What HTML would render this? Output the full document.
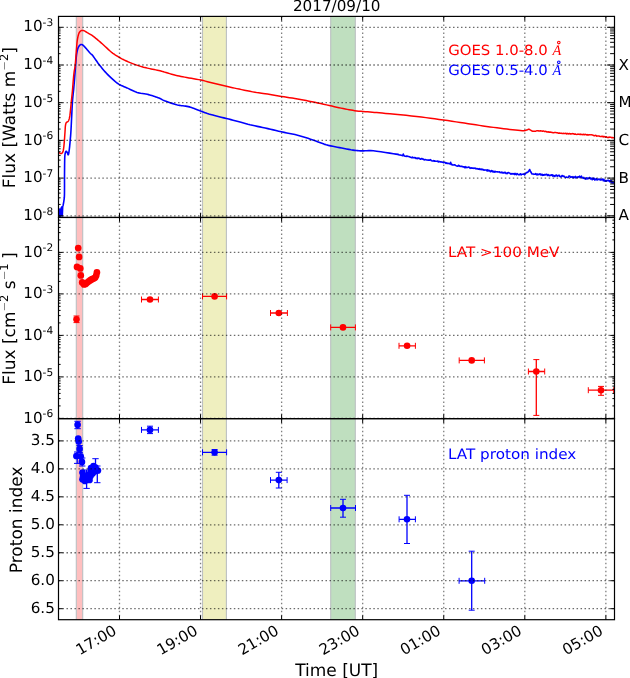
<!DOCTYPE html>
<html><head><meta charset="utf-8"><title>2017/09/10</title><style>html,body{margin:0;padding:0;background:#fff;width:630px;height:678px;overflow:hidden;position:relative}</style></head><body>
<svg width="630" height="678" viewBox="0 0 630 678" style="position:absolute;left:0;top:0">
<rect width="630" height="678" fill="#fff"/>
<defs>
<clipPath id="c1"><rect x="58.5" y="16.4" width="556.0" height="201.04999999999998"/></clipPath>
<clipPath id="c2"><rect x="58.5" y="217.45" width="556.0" height="201.2"/></clipPath>
<clipPath id="c3"><rect x="58.5" y="418.65" width="556.0" height="201.05000000000007"/></clipPath>
</defs>
<rect x="76.3" y="16.4" width="6.4" height="603.3" fill="#ffbfbf"/>
<line x1="76.3" y1="16.4" x2="76.3" y2="619.7" stroke="#bcc0c2" stroke-width="1.1"/>
<line x1="82.7" y1="16.4" x2="82.7" y2="619.7" stroke="#bcc0c2" stroke-width="1.1"/>
<rect x="202.5" y="16.4" width="23.9" height="603.3" fill="#efefbf"/>
<line x1="202.5" y1="16.4" x2="202.5" y2="619.7" stroke="#bcc0c2" stroke-width="1.1"/>
<line x1="226.4" y1="16.4" x2="226.4" y2="619.7" stroke="#bcc0c2" stroke-width="1.1"/>
<rect x="330.7" y="16.4" width="24.6" height="603.3" fill="#bfdfbf"/>
<line x1="330.7" y1="16.4" x2="330.7" y2="619.7" stroke="#bcc0c2" stroke-width="1.1"/>
<line x1="355.3" y1="16.4" x2="355.3" y2="619.7" stroke="#bcc0c2" stroke-width="1.1"/>
<g clip-path="url(#c1)">
<polyline points="59,217 59.3,209 59.7,215 60.2,210 60.6,216.5 61,208 61.5,215 61.9,206.8 62.3,216 62.7,206.5 63.1,205.4 63.24,204.59 63.45,203.48 63.69,202.16 63.93,200.7 64.14,199.19 64.3,197.7 64.39,196.2 64.45,194.62 64.47,192.98 64.49,191.31 64.49,189.65 64.5,188 64.51,186.4 64.51,184.83 64.51,183.26 64.5,181.65 64.5,179.97 64.5,178.2 64.51,176.27 64.52,174.21 64.54,172.08 64.56,169.96 64.58,167.9 64.6,166 64.62,164.2 64.64,162.43 64.67,160.73 64.7,159.15 64.74,157.73 64.8,156.5 64.87,155.5 64.96,154.69 65.06,154.04 65.17,153.51 65.28,153.04 65.4,152.6 65.52,152.19 65.64,151.84 65.77,151.57 65.9,151.37 66.05,151.24 66.2,151.2 66.37,151.26 66.55,151.43 66.74,151.67 66.93,151.97 67.12,152.29 67.3,152.6 67.47,153.01 67.64,153.55 67.81,154.12 67.97,154.59 68.13,154.86 68.3,154.8 68.47,154.39 68.64,153.73 68.81,152.86 68.97,151.83 69.14,150.69 69.3,149.5 69.46,148.22 69.61,146.8 69.76,145.27 69.91,143.67 70.06,142.04 70.2,140.4 70.33,138.94 70.45,137.66 70.57,136.34 70.69,134.77 70.83,132.73 71,130 71.2,126.28 71.42,121.69 71.66,116.62 71.91,111.49 72.16,106.72 72.4,102.7 72.63,99.54 72.87,96.91 73.11,94.64 73.34,92.53 73.57,90.38 73.8,88 74.03,85.3 74.27,82.43 74.51,79.51 74.73,76.71 74.93,74.16 75.1,72 75.22,70.37 75.31,69.17 75.37,68.22 75.43,67.34 75.5,66.36 75.6,65.1 75.73,63.49 75.88,61.65 76.04,59.71 76.22,57.78 76.4,55.97 76.6,54.4 76.81,53.06 77.02,51.85 77.25,50.76 77.49,49.79 77.74,48.9 78,48.1 78.28,47.39 78.59,46.8 78.9,46.3 79.21,45.88 79.52,45.52 79.8,45.2 80.05,44.94 80.28,44.75 80.5,44.63 80.72,44.55 80.95,44.51 81.2,44.5 81.47,44.51 81.73,44.55 82.01,44.62 82.31,44.75 82.64,44.94 83,45.2 83.39,45.53 83.81,45.93 84.25,46.39 84.73,46.9 85.24,47.48 85.8,48.1 86.44,48.83 87.15,49.67 87.91,50.57 88.66,51.46 89.37,52.29 90,53 90.5,53.49 90.88,53.81 91.22,54.06 91.59,54.36 92.06,54.83 92.7,55.6 93.54,56.72 94.53,58.11 95.62,59.68 96.76,61.32 97.9,62.93 99,64.4 100.06,65.76 101.13,67.1 102.2,68.41 103.27,69.68 104.34,70.91 105.4,72.1 106.45,73.24 107.48,74.33 108.51,75.38 109.55,76.4 110.61,77.4 111.7,78.4 112.81,79.41 113.93,80.41 115.08,81.41 116.24,82.36 117.45,83.27 118.7,84.1 119.99,84.84 121.3,85.48 122.66,86.07 124.05,86.65 125.5,87.25 127,87.9 128.58,88.64 130.23,89.44 131.93,90.27 133.66,91.07 135.39,91.79 137.1,92.4 138.84,92.87 140.63,93.23 142.43,93.51 144.18,93.76 145.82,94.01 147.3,94.3 148.59,94.61 149.72,94.92 150.74,95.22 151.71,95.54 152.68,95.86 153.7,96.2 154.78,96.56 155.87,96.94 156.97,97.33 158.04,97.73 159.06,98.12 160,98.5 160.78,98.85 161.39,99.18 161.95,99.51 162.58,99.85 163.39,100.24 164.5,100.7 166.04,101.27 167.94,101.95 170.03,102.68 172.12,103.38 174.04,104.01 175.6,104.5 176.73,104.83 177.55,105.04 178.2,105.17 178.8,105.26 179.49,105.36 180.4,105.5 181.55,105.67 182.86,105.82 184.25,105.98 185.66,106.16 187.03,106.36 188.3,106.6 189.44,106.88 190.49,107.19 191.5,107.52 192.51,107.89 193.56,108.28 194.7,108.7 195.93,109.16 197.22,109.67 198.55,110.21 199.9,110.76 201.26,111.29 202.6,111.8 203.84,112.26 204.97,112.68 206.11,113.09 207.35,113.52 208.81,113.98 210.6,114.5 212.82,115.1 215.4,115.77 218.21,116.47 221.07,117.18 223.86,117.86 226.4,118.5 228.72,119.08 230.93,119.63 233.06,120.16 235.11,120.67 237.12,121.18 239.1,121.7 240.97,122.22 242.71,122.74 244.39,123.25 246.11,123.76 247.96,124.28 250,124.8 252.27,125.32 254.71,125.84 257.27,126.36 259.9,126.89 262.56,127.43 265.2,128 267.84,128.6 270.53,129.24 273.24,129.89 275.96,130.54 278.69,131.18 281.4,131.8 284.11,132.37 286.83,132.91 289.56,133.44 292.27,133.98 294.95,134.56 297.6,135.2 300.23,135.92 302.84,136.7 305.43,137.51 307.98,138.35 310.48,139.18 312.9,140 315.23,140.82 317.48,141.67 319.67,142.53 321.84,143.35 324.01,144.12 326.2,144.8 328.42,145.39 330.63,145.89 332.84,146.34 335.06,146.76 337.28,147.17 339.5,147.6 341.78,148.05 344.12,148.52 346.46,148.97 348.75,149.4 350.91,149.79 352.9,150.1 354.64,150.34 356.17,150.53 357.58,150.66 358.96,150.76 360.41,150.84 362,150.9 363.62,150.9 365.18,150.81 366.8,150.69 368.61,150.61 370.73,150.63 373.3,150.8 376.69,151.19 380.86,151.77 385.36,152.44 389.69,153.12 393.4,153.7 396,154.1 396.61,154.13 397.21,154.43 397.82,154.11 398.42,154.41 399.03,155.06 399.64,155.07 400.24,155.05 400.85,155.16 401.45,155.2 402.06,155.43 402.66,155.62 403.27,154.1 403.88,155.65 404.48,156.08 405.09,156.23 405.69,156.26 406.3,156.49 406.91,155.96 407.51,156.17 408.12,156.46 408.72,156.48 409.33,156.66 409.94,156.94 410.54,157.32 411.15,157.46 411.75,157.63 412.36,157.08 412.96,157.86 413.57,157.65 414.18,157.48 414.78,157.9 415.39,157.6 415.99,158.49 416.6,158.45 417.21,158 417.82,158.62 418.43,158.1 419.04,158.2 419.65,158.54 420.25,159.2 420.86,159.32 421.47,158.61 422.08,158.67 422.69,159.1 423.3,158.97 423.91,159.7 424.52,159.88 425.13,159.46 425.74,159.68 426.35,159.85 426.95,159.97 427.56,159.97 428.17,160.26 428.78,159.97 429.39,160.27 430,159.89 430.61,159.6 431.22,160.67 431.83,160.76 432.44,160.91 433.05,161.04 433.65,160.48 434.26,161.2 434.87,160.89 435.48,161.32 436.09,161.19 436.7,161.3 437.31,161.33 437.92,161.04 438.53,161.95 439.14,161.54 439.75,161.65 440.35,161.95 440.96,161.71 441.57,162.04 442.18,162.24 442.79,162.06 443.4,162.65 444.01,162.58 444.61,162.38 445.22,162.58 445.82,163.39 446.43,162.94 447.04,163.46 447.64,163.28 448.25,163.36 448.85,163.47 449.46,163.76 450.06,163.89 450.67,162.34 451.28,164.67 451.88,164.32 452.49,164.99 453.09,164.93 453.7,164.98 454.31,164.7 454.91,164.77 455.52,165.3 456.12,165.69 456.73,165.93 457.34,166.09 457.94,166.2 458.55,165.33 459.15,165.65 459.76,166.34 460.36,166.19 460.97,166.55 461.58,166.27 462.18,166.67 462.79,166.66 463.39,167.01 464,166.72 464.61,167.67 465.22,166.69 465.83,167.76 466.44,167.14 467.04,167.51 467.65,167.53 468.26,167.04 468.87,167.26 469.48,167.27 470.09,168.29 470.7,167.94 471.31,167.79 471.91,168.27 472.52,168 473.13,168.04 473.74,168.39 474.35,168.25 474.96,168.08 475.57,168.68 476.18,168.48 476.79,168.86 477.39,168.62 478,169.12 478.61,169.18 479.22,168.69 479.83,169.34 480.44,169.07 481.05,169.73 481.66,169.16 482.26,169.77 482.87,169.42 483.48,169.95 484.09,170.13 484.7,169.92 485.36,169.96 486.02,169.95 486.69,170.59 487.35,169.86 488.01,171.08 488.68,170.11 489.34,170.42 490,171.33 490.63,171.78 491.25,170.5 491.88,171.34 492.51,170.86 493.13,172.06 493.76,171.3 494.38,172.07 495.01,171.25 495.64,171.92 496.26,171.69 496.89,171.77 497.52,171.87 498.14,172.06 498.77,172.01 499.39,171.73 500.02,172.64 500.65,172.38 501.27,172.63 501.9,172 502.5,172.92 503.1,172.65 503.7,173 504.3,172.41 504.9,172.93 505.5,172.47 506.1,173.59 506.7,173.28 507.3,173.56 507.9,172.76 508.5,172.46 509.1,173.05 509.7,173.08 510.3,173.76 510.9,174.14 511.5,173.62 512.1,174.03 512.7,173.68 513.3,173.98 513.9,173.56 514.5,174.47 515.1,173.42 515.7,174.23 516.3,174.66 516.9,173.62 517.5,173.71 518.1,174.45 518.7,174.81 519.3,174.82 519.9,174.2 520.5,173.73 521.1,174.96 521.7,174.28 522.4,174.2 523.1,174.25 523.8,173.82 524.5,174.92 525.23,173.9 525.97,173.11 526.7,172.48 527.6,172.46 528.5,171.21 529.1,170.59 529.7,169.47 530.35,171.4 531,172.12 531.85,173.95 532.7,173.96 533.31,173.94 533.93,174.35 534.54,174.15 535.16,174.33 535.77,173.6 536.39,174.44 537,174.95 537.61,174 538.23,174.49 538.84,174.62 539.46,174.11 540.07,173.74 540.69,174.95 541.3,174.97 541.91,174.22 542.53,175.3 543.14,174.72 543.76,175.22 544.37,174.52 544.99,174.92 545.6,174.65 546.21,174.28 546.82,174.31 547.43,175.54 548.04,174.55 548.65,175.01 549.26,175.76 549.87,175.42 550.48,175.13 551.09,175.41 551.7,174.89 552.31,174.76 552.92,176.21 553.53,175.36 554.14,175.77 554.75,176.52 555.36,175.36 555.97,175.74 556.58,175.08 557.19,176.17 557.81,175.97 558.42,175.42 559.03,175.18 559.64,176.35 560.25,176.25 560.86,176.9 561.47,176.77 562.08,175.46 562.69,175.84 563.3,176.46 563.91,176.11 564.52,176.85 565.13,177.21 565.74,177.39 566.35,177.09 566.96,177.27 567.57,177.43 568.18,177.28 568.79,176.11 569.4,176.1 570,176.3 570.6,177.38 571.2,176.9 571.8,176.72 572.4,177.63 573,176.58 573.6,177.66 574.2,177.04 574.8,177.52 575.4,176.42 576,177.98 576.6,177.4 577.2,176.96 577.8,177.39 578.4,176.7 579,177.03 579.6,176.19 580.2,177.59 580.8,176.94 581.4,176.22 582,177.36 582.6,177.92 583.2,178.26 583.8,177.31 584.4,178.57 585,178.74 585.6,179.08 586.2,177.76 586.8,178.94 587.4,178.04 588,178.77 588.6,178.59 589.2,177.67 589.81,177.63 590.42,178.96 591.03,178.11 591.65,178.74 592.26,179.72 592.87,177.98 593.48,179.23 594.09,178.23 594.7,179.88 595.32,179 595.93,179.68 596.54,178.7 597.15,179.94 597.76,179.63 598.37,179.31 598.98,179.1 599.6,179.7 600.21,179.12 600.82,180.11 601.43,179.72 602.04,179.3 602.65,179.1 603.27,180.73 603.88,179.4 604.49,181.06 605.1,181.21 605.74,180.44 606.37,181.19 607.01,180.55 607.64,180.75 608.28,180.26 608.91,180.41 609.55,181.72 610.19,180.56 610.82,182 611.46,180.76 612.09,182.99 612.73,182.25 613.36,182.87 614,182.4" fill="none" stroke="#0000ff" stroke-width="1.6" stroke-linejoin="round" stroke-linecap="round" />
<polyline points="59,152.6 59.13,152.68 59.31,152.8 59.53,152.94 59.76,153.08 59.99,153.2 60.2,153.3 60.39,153.37 60.58,153.44 60.76,153.49 60.94,153.52 61.12,153.52 61.3,153.5 61.47,153.45 61.65,153.37 61.82,153.26 61.99,153.13 62.15,152.98 62.3,152.8 62.45,152.62 62.59,152.43 62.72,152.22 62.85,151.96 62.97,151.63 63.1,151.2 63.22,150.68 63.34,150.08 63.46,149.41 63.58,148.67 63.69,147.87 63.8,147 63.91,146.06 64.01,145.04 64.11,143.96 64.2,142.82 64.3,141.63 64.4,140.4 64.5,139.08 64.61,137.64 64.71,136.16 64.81,134.69 64.91,133.28 65,132 65.08,130.82 65.14,129.7 65.2,128.65 65.26,127.67 65.32,126.79 65.4,126 65.49,125.33 65.58,124.76 65.68,124.29 65.78,123.88 65.89,123.53 66,123.2 66.12,122.92 66.24,122.72 66.38,122.56 66.51,122.44 66.65,122.32 66.8,122.2 66.96,122.08 67.12,122 67.29,121.92 67.47,121.84 67.64,121.74 67.8,121.6 67.95,121.45 68.1,121.31 68.25,121.14 68.4,120.94 68.55,120.66 68.7,120.3 68.86,119.86 69.03,119.35 69.21,118.78 69.38,118.14 69.54,117.41 69.7,116.6 69.85,115.68 69.99,114.64 70.12,113.52 70.25,112.36 70.37,111.17 70.5,110 70.62,108.89 70.72,107.82 70.82,106.73 70.93,105.56 71.05,104.24 71.2,102.7 71.39,100.86 71.61,98.77 71.84,96.52 72.08,94.23 72.31,92.02 72.5,90 72.66,88.15 72.8,86.39 72.93,84.71 73.05,83.09 73.17,81.52 73.3,80 73.43,78.54 73.56,77.14 73.68,75.81 73.81,74.51 73.95,73.25 74.1,72 74.26,70.9 74.44,69.97 74.62,69.07 74.81,68.06 75,66.78 75.2,65.1 75.41,62.84 75.64,60.07 75.87,57.05 76.1,54 76.31,51.17 76.5,48.8 76.66,46.91 76.78,45.31 76.89,43.93 77.01,42.69 77.14,41.5 77.3,40.3 77.49,39.07 77.71,37.88 77.94,36.74 78.18,35.69 78.44,34.73 78.7,33.9 78.97,33.2 79.26,32.62 79.56,32.14 79.86,31.74 80.18,31.4 80.5,31.1 80.83,30.85 81.17,30.66 81.52,30.53 81.88,30.45 82.24,30.41 82.6,30.4 82.96,30.43 83.31,30.5 83.67,30.61 84.03,30.75 84.41,30.92 84.8,31.1 85.18,31.3 85.54,31.51 85.91,31.74 86.32,32.01 86.81,32.33 87.4,32.7 88.12,33.12 88.93,33.58 89.82,34.08 90.76,34.63 91.73,35.24 92.7,35.9 93.69,36.63 94.72,37.44 95.78,38.29 96.86,39.19 97.93,40.09 99,41 100.06,41.92 101.13,42.86 102.2,43.81 103.27,44.78 104.34,45.74 105.4,46.7 106.44,47.66 107.46,48.62 108.47,49.59 109.5,50.54 110.57,51.48 111.7,52.4 112.9,53.3 114.17,54.19 115.47,55.07 116.79,55.92 118.11,56.73 119.4,57.5 120.67,58.22 121.94,58.89 123.21,59.52 124.47,60.13 125.73,60.72 127,61.3 128.25,61.86 129.49,62.4 130.72,62.91 131.97,63.41 133.26,63.91 134.6,64.4 136.02,64.9 137.52,65.4 139.05,65.89 140.58,66.36 142.08,66.8 143.5,67.2 144.83,67.54 146.08,67.84 147.3,68.11 148.52,68.36 149.77,68.62 151.1,68.9 152.56,69.21 154.13,69.54 155.74,69.88 157.31,70.2 158.76,70.52 160,70.8 160.93,71.03 161.58,71.21 162.11,71.37 162.67,71.55 163.42,71.78 164.5,72.1 165.97,72.53 167.71,73.06 169.64,73.64 171.66,74.24 173.67,74.8 175.6,75.3 177.41,75.72 179.18,76.09 180.95,76.44 182.76,76.77 184.66,77.12 186.7,77.5 188.92,77.9 191.29,78.31 193.75,78.74 196.23,79.17 198.67,79.63 201,80.1 203.21,80.6 205.35,81.13 207.45,81.67 209.53,82.23 211.6,82.77 213.7,83.3 215.82,83.81 217.93,84.32 220.05,84.82 222.17,85.32 224.28,85.81 226.4,86.3 228.48,86.77 230.51,87.23 232.55,87.69 234.63,88.14 236.8,88.61 239.1,89.1 241.63,89.63 244.37,90.2 247.21,90.79 250,91.35 252.64,91.87 255,92.3 256.96,92.62 258.6,92.85 260.08,93.03 261.57,93.2 263.22,93.41 265.2,93.7 267.55,94.08 270.16,94.51 272.92,94.98 275.78,95.46 278.63,95.94 281.4,96.4 284.09,96.83 286.76,97.25 289.44,97.66 292.13,98.09 294.84,98.53 297.6,99 300.41,99.5 303.26,100.03 306.14,100.57 309.04,101.14 311.93,101.71 314.8,102.3 317.7,102.91 320.65,103.56 323.59,104.22 326.49,104.88 329.27,105.51 331.9,106.1 334.36,106.65 336.68,107.17 338.9,107.67 341.04,108.14 343.13,108.58 345.2,109 347.2,109.38 349.1,109.74 350.95,110.06 352.8,110.36 354.7,110.64 356.7,110.9 358.79,111.13 360.91,111.31 363.09,111.48 365.33,111.64 367.63,111.81 370,112 372.29,112.2 374.46,112.38 376.69,112.58 379.17,112.8 382.08,113.06 385.6,113.4 389.92,113.81 394.95,114.29 400.4,114.82 406.01,115.37 411.5,115.94 416.6,116.5 421.33,117.06 425.92,117.63 430.39,118.21 434.77,118.8 439.1,119.4 443.4,120 447.68,120.61 451.93,121.24 456.11,121.87 460.23,122.5 464.26,123.11 468.2,123.7 472.03,124.27 475.76,124.83 479.41,125.38 482.99,125.9 486.52,126.41 490,126.9 493.48,127.37 496.97,127.83 500.39,128.26 503.71,128.67 506.86,129.06 509.8,129.4 512.62,129.71 515.39,130 517.99,130.26 520.31,130.48 522.26,130.66 523.7,130.8 524.45,130.65 525.2,130.42 525.95,130.23 526.7,129.9 527.57,129.78 528.43,129.2 529.3,129.19 530.15,129.94 531,130.36 531.85,131.02 532.7,131.23 533.47,131.32 534.23,131.15 535,131.22 535.77,131.17 536.53,130.84 537.3,130.87 538.07,130.83 538.83,131.06 539.6,130.93 540.31,130.72 541.01,131.11 541.72,130.88 542.43,131.2 543.14,131.05 543.84,131.07 544.55,131.58 545.26,131.34 545.96,131.43 546.67,131.9 547.38,131.93 548.09,131.72 548.79,132.15 549.5,132.02 550.21,132.18 550.91,132.02 551.62,132.49 552.33,132.44 553.04,132.68 553.74,132.72 554.45,132.49 555.16,132.61 555.86,132.59 556.57,132.66 557.28,132.7 557.99,132.92 558.69,133.17 559.4,132.92 560.11,133.34 560.82,133.18 561.53,133.21 562.24,133.53 562.95,133.38 563.66,133.32 564.37,133.46 565.08,133.62 565.79,133.28 566.5,133.86 567.2,133.34 567.91,133.81 568.62,133.9 569.33,133.44 570.04,133.95 570.75,133.73 571.46,133.9 572.17,133.58 572.88,133.64 573.59,133.76 574.3,134.28 575.01,133.85 575.72,134.24 576.43,134.39 577.14,134.43 577.85,134.09 578.56,134.14 579.27,134.28 579.98,134.48 580.69,134.09 581.4,134.54 582.1,134.61 582.81,134.7 583.52,134.19 584.23,134.83 584.94,134.3 585.65,134.5 586.36,134.72 587.07,134.97 587.78,134.61 588.49,135.05 589.2,134.83 589.94,134.77 590.69,134.87 591.43,134.87 592.18,134.9 592.92,135.05 593.66,135.53 594.41,135.85 595.15,135.36 595.89,135.38 596.64,136.15 597.38,135.92 598.12,135.93 598.87,135.91 599.61,136.27 600.36,136.54 601.1,136.37 601.82,136.42 602.53,136.22 603.25,136.95 603.97,136.36 604.68,136.78 605.4,137.12 606.12,136.66 606.83,137.2 607.55,137.45 608.27,137.28 608.98,137.48 609.7,137.03 610.42,137.36 611.13,137.21 611.85,137.84 612.57,137.48 613.28,137.68 614,137.8" fill="none" stroke="#ff0000" stroke-width="1.5" stroke-linejoin="round" stroke-linecap="round" />
</g>
<g clip-path="url(#c2)">
<circle cx="78.2" cy="248.1" r="3.35" fill="#ff0000"/>
<circle cx="79.1" cy="256.9" r="3.35" fill="#ff0000"/>
<circle cx="77.0" cy="266.9" r="3.35" fill="#ff0000"/>
<circle cx="80.3" cy="268.4" r="3.35" fill="#ff0000"/>
<circle cx="80.8" cy="275.4" r="3.35" fill="#ff0000"/>
<circle cx="82.2" cy="282.4" r="3.35" fill="#ff0000"/>
<circle cx="84.0" cy="284.4" r="3.35" fill="#ff0000"/>
<circle cx="85.6" cy="284.0" r="3.35" fill="#ff0000"/>
<circle cx="87.2" cy="282.6" r="3.35" fill="#ff0000"/>
<circle cx="88.8" cy="281.3" r="3.35" fill="#ff0000"/>
<circle cx="90.4" cy="280.2" r="3.35" fill="#ff0000"/>
<circle cx="92.0" cy="279.2" r="3.35" fill="#ff0000"/>
<circle cx="93.6" cy="278.5" r="3.35" fill="#ff0000"/>
<circle cx="95.2" cy="277.6" r="3.35" fill="#ff0000"/>
<circle cx="96.2" cy="275.5" r="3.35" fill="#ff0000"/>
<circle cx="96.9" cy="272.4" r="3.35" fill="#ff0000"/>
<line x1="76.5" y1="316" x2="76.5" y2="322.6" stroke="#ff0000" stroke-width="1.3"/>
<line x1="73.5" y1="316" x2="79.5" y2="316" stroke="#ff0000" stroke-width="1"/>
<line x1="73.5" y1="322.6" x2="79.5" y2="322.6" stroke="#ff0000" stroke-width="1"/>
<circle cx="76.5" cy="319.3" r="3.3" fill="#ff0000"/>
<line x1="141.5" y1="299.5" x2="158.4" y2="299.5" stroke="#ff0000" stroke-width="1.3"/>
<line x1="141.5" y1="296.5" x2="141.5" y2="302.5" stroke="#ff0000" stroke-width="1"/>
<line x1="158.4" y1="296.5" x2="158.4" y2="302.5" stroke="#ff0000" stroke-width="1"/>
<circle cx="150" cy="299.5" r="3.3" fill="#ff0000"/>
<line x1="202.5" y1="296.4" x2="226.6" y2="296.4" stroke="#ff0000" stroke-width="1.3"/>
<line x1="202.5" y1="293.4" x2="202.5" y2="299.4" stroke="#ff0000" stroke-width="1"/>
<line x1="226.6" y1="293.4" x2="226.6" y2="299.4" stroke="#ff0000" stroke-width="1"/>
<circle cx="214.6" cy="296.4" r="3.3" fill="#ff0000"/>
<line x1="270.5" y1="313" x2="287.4" y2="313" stroke="#ff0000" stroke-width="1.3"/>
<line x1="270.5" y1="310" x2="270.5" y2="316" stroke="#ff0000" stroke-width="1"/>
<line x1="287.4" y1="310" x2="287.4" y2="316" stroke="#ff0000" stroke-width="1"/>
<circle cx="278.8" cy="313" r="3.3" fill="#ff0000"/>
<line x1="330.7" y1="327.4" x2="355.4" y2="327.4" stroke="#ff0000" stroke-width="1.3"/>
<line x1="330.7" y1="324.4" x2="330.7" y2="330.4" stroke="#ff0000" stroke-width="1"/>
<line x1="355.4" y1="324.4" x2="355.4" y2="330.4" stroke="#ff0000" stroke-width="1"/>
<circle cx="343" cy="327.4" r="3.3" fill="#ff0000"/>
<line x1="399" y1="345.8" x2="415.4" y2="345.8" stroke="#ff0000" stroke-width="1.3"/>
<line x1="399" y1="342.8" x2="399" y2="348.8" stroke="#ff0000" stroke-width="1"/>
<line x1="415.4" y1="342.8" x2="415.4" y2="348.8" stroke="#ff0000" stroke-width="1"/>
<circle cx="407.1" cy="345.8" r="3.3" fill="#ff0000"/>
<line x1="459.2" y1="360.4" x2="484.4" y2="360.4" stroke="#ff0000" stroke-width="1.3"/>
<line x1="459.2" y1="357.4" x2="459.2" y2="363.4" stroke="#ff0000" stroke-width="1"/>
<line x1="484.4" y1="357.4" x2="484.4" y2="363.4" stroke="#ff0000" stroke-width="1"/>
<circle cx="471.7" cy="360.4" r="3.3" fill="#ff0000"/>
<line x1="528.4" y1="371.5" x2="544.7" y2="371.5" stroke="#ff0000" stroke-width="1.3"/>
<line x1="528.4" y1="368.5" x2="528.4" y2="374.5" stroke="#ff0000" stroke-width="1"/>
<line x1="544.7" y1="368.5" x2="544.7" y2="374.5" stroke="#ff0000" stroke-width="1"/>
<line x1="536.3" y1="359.6" x2="536.3" y2="415.4" stroke="#ff0000" stroke-width="1.3"/>
<line x1="533.3" y1="359.6" x2="539.3" y2="359.6" stroke="#ff0000" stroke-width="1"/>
<line x1="533.3" y1="415.4" x2="539.3" y2="415.4" stroke="#ff0000" stroke-width="1"/>
<circle cx="536.3" cy="371.5" r="3.3" fill="#ff0000"/>
<line x1="588.3" y1="390.2" x2="613.7" y2="390.2" stroke="#ff0000" stroke-width="1.3"/>
<line x1="588.3" y1="387.2" x2="588.3" y2="393.2" stroke="#ff0000" stroke-width="1"/>
<line x1="613.7" y1="387.2" x2="613.7" y2="393.2" stroke="#ff0000" stroke-width="1"/>
<line x1="601" y1="386.4" x2="601" y2="395.3" stroke="#ff0000" stroke-width="1.3"/>
<line x1="598" y1="386.4" x2="604" y2="386.4" stroke="#ff0000" stroke-width="1"/>
<line x1="598" y1="395.3" x2="604" y2="395.3" stroke="#ff0000" stroke-width="1"/>
<circle cx="601" cy="390.2" r="3.3" fill="#ff0000"/>
</g>
<g clip-path="url(#c3)">
<line x1="77.6" y1="421.3" x2="77.6" y2="428.7" stroke="#0000ff" stroke-width="1.3"/>
<line x1="74.39999999999999" y1="421.3" x2="80.8" y2="421.3" stroke="#0000ff" stroke-width="1"/>
<line x1="74.39999999999999" y1="428.7" x2="80.8" y2="428.7" stroke="#0000ff" stroke-width="1"/>
<line x1="79.6" y1="445.5" x2="79.6" y2="452.5" stroke="#0000ff" stroke-width="1.3"/>
<line x1="76.39999999999999" y1="445.5" x2="82.8" y2="445.5" stroke="#0000ff" stroke-width="1"/>
<line x1="76.39999999999999" y1="452.5" x2="82.8" y2="452.5" stroke="#0000ff" stroke-width="1"/>
<line x1="77.2" y1="452" x2="77.2" y2="463.4" stroke="#0000ff" stroke-width="1.3"/>
<line x1="74.0" y1="452" x2="80.4" y2="452" stroke="#0000ff" stroke-width="1"/>
<line x1="74.0" y1="463.4" x2="80.4" y2="463.4" stroke="#0000ff" stroke-width="1"/>
<line x1="82.2" y1="458" x2="82.2" y2="466" stroke="#0000ff" stroke-width="1.3"/>
<line x1="79.0" y1="458" x2="85.4" y2="458" stroke="#0000ff" stroke-width="1"/>
<line x1="79.0" y1="466" x2="85.4" y2="466" stroke="#0000ff" stroke-width="1"/>
<line x1="86.6" y1="470" x2="86.6" y2="488.4" stroke="#0000ff" stroke-width="1.3"/>
<line x1="83.39999999999999" y1="470" x2="89.8" y2="470" stroke="#0000ff" stroke-width="1"/>
<line x1="83.39999999999999" y1="488.4" x2="89.8" y2="488.4" stroke="#0000ff" stroke-width="1"/>
<line x1="95.5" y1="458.7" x2="95.5" y2="472" stroke="#0000ff" stroke-width="1.3"/>
<line x1="92.3" y1="458.7" x2="98.7" y2="458.7" stroke="#0000ff" stroke-width="1"/>
<line x1="92.3" y1="472" x2="98.7" y2="472" stroke="#0000ff" stroke-width="1"/>
<line x1="97.3" y1="466" x2="97.3" y2="482.7" stroke="#0000ff" stroke-width="1.3"/>
<line x1="94.1" y1="466" x2="100.5" y2="466" stroke="#0000ff" stroke-width="1"/>
<line x1="94.1" y1="482.7" x2="100.5" y2="482.7" stroke="#0000ff" stroke-width="1"/>
<circle cx="77.6" cy="424.8" r="3.35" fill="#0000ff"/>
<circle cx="78.2" cy="438.6" r="3.35" fill="#0000ff"/>
<circle cx="78.7" cy="441.6" r="3.35" fill="#0000ff"/>
<circle cx="79.6" cy="448.9" r="3.35" fill="#0000ff"/>
<circle cx="76.4" cy="456" r="3.35" fill="#0000ff"/>
<circle cx="80.7" cy="456.3" r="3.35" fill="#0000ff"/>
<circle cx="81.9" cy="461.9" r="3.35" fill="#0000ff"/>
<circle cx="83.1" cy="476.4" r="3.35" fill="#0000ff"/>
<circle cx="84.5" cy="478.5" r="3.35" fill="#0000ff"/>
<circle cx="86.1" cy="478.2" r="3.35" fill="#0000ff"/>
<circle cx="87.5" cy="476.5" r="3.35" fill="#0000ff"/>
<circle cx="89" cy="474.6" r="3.35" fill="#0000ff"/>
<circle cx="90.8" cy="472.2" r="3.35" fill="#0000ff"/>
<circle cx="92.5" cy="469.9" r="3.35" fill="#0000ff"/>
<circle cx="94" cy="468.5" r="3.35" fill="#0000ff"/>
<circle cx="95.5" cy="467.6" r="3.35" fill="#0000ff"/>
<circle cx="97.9" cy="470.5" r="3.35" fill="#0000ff"/>
<circle cx="82.5" cy="472.5" r="3.35" fill="#0000ff"/>
<circle cx="84" cy="476" r="3.35" fill="#0000ff"/>
<circle cx="86" cy="479.5" r="3.35" fill="#0000ff"/>
<circle cx="88.5" cy="478.5" r="3.35" fill="#0000ff"/>
<circle cx="90.5" cy="476" r="3.35" fill="#0000ff"/>
<circle cx="92.5" cy="473.5" r="3.35" fill="#0000ff"/>
<circle cx="94.5" cy="471.5" r="3.35" fill="#0000ff"/>
<circle cx="96.5" cy="470.5" r="3.35" fill="#0000ff"/>
<circle cx="91" cy="468.2" r="3.35" fill="#0000ff"/>
<circle cx="93.5" cy="466.2" r="3.35" fill="#0000ff"/>
<circle cx="85" cy="481" r="3.35" fill="#0000ff"/>
<circle cx="82.5" cy="479.3" r="3.35" fill="#0000ff"/>
<circle cx="89.5" cy="480" r="3.35" fill="#0000ff"/>
<line x1="141.5" y1="429.9" x2="158.4" y2="429.9" stroke="#0000ff" stroke-width="1.3"/>
<line x1="141.5" y1="426.9" x2="141.5" y2="432.9" stroke="#0000ff" stroke-width="1"/>
<line x1="158.4" y1="426.9" x2="158.4" y2="432.9" stroke="#0000ff" stroke-width="1"/>
<line x1="150" y1="426.2" x2="150" y2="433.6" stroke="#0000ff" stroke-width="1.3"/>
<line x1="147" y1="426.2" x2="153" y2="426.2" stroke="#0000ff" stroke-width="1"/>
<line x1="147" y1="433.6" x2="153" y2="433.6" stroke="#0000ff" stroke-width="1"/>
<circle cx="150" cy="429.9" r="3.3" fill="#0000ff"/>
<line x1="202.5" y1="452.3" x2="226.6" y2="452.3" stroke="#0000ff" stroke-width="1.3"/>
<line x1="202.5" y1="449.3" x2="202.5" y2="455.3" stroke="#0000ff" stroke-width="1"/>
<line x1="226.6" y1="449.3" x2="226.6" y2="455.3" stroke="#0000ff" stroke-width="1"/>
<line x1="214.6" y1="449.5" x2="214.6" y2="455.2" stroke="#0000ff" stroke-width="1.3"/>
<line x1="211.6" y1="449.5" x2="217.6" y2="449.5" stroke="#0000ff" stroke-width="1"/>
<line x1="211.6" y1="455.2" x2="217.6" y2="455.2" stroke="#0000ff" stroke-width="1"/>
<circle cx="214.6" cy="452.3" r="3.3" fill="#0000ff"/>
<line x1="270.5" y1="480.1" x2="287.1" y2="480.1" stroke="#0000ff" stroke-width="1.3"/>
<line x1="270.5" y1="477.1" x2="270.5" y2="483.1" stroke="#0000ff" stroke-width="1"/>
<line x1="287.1" y1="477.1" x2="287.1" y2="483.1" stroke="#0000ff" stroke-width="1"/>
<line x1="278.8" y1="472.3" x2="278.8" y2="488" stroke="#0000ff" stroke-width="1.3"/>
<line x1="275.8" y1="472.3" x2="281.8" y2="472.3" stroke="#0000ff" stroke-width="1"/>
<line x1="275.8" y1="488" x2="281.8" y2="488" stroke="#0000ff" stroke-width="1"/>
<circle cx="278.8" cy="480.1" r="3.3" fill="#0000ff"/>
<line x1="330.7" y1="508" x2="355.5" y2="508" stroke="#0000ff" stroke-width="1.3"/>
<line x1="330.7" y1="505" x2="330.7" y2="511" stroke="#0000ff" stroke-width="1"/>
<line x1="355.5" y1="505" x2="355.5" y2="511" stroke="#0000ff" stroke-width="1"/>
<line x1="343" y1="499.3" x2="343" y2="517.2" stroke="#0000ff" stroke-width="1.3"/>
<line x1="340" y1="499.3" x2="346" y2="499.3" stroke="#0000ff" stroke-width="1"/>
<line x1="340" y1="517.2" x2="346" y2="517.2" stroke="#0000ff" stroke-width="1"/>
<circle cx="343" cy="508" r="3.3" fill="#0000ff"/>
<line x1="399.1" y1="519.3" x2="415.4" y2="519.3" stroke="#0000ff" stroke-width="1.3"/>
<line x1="399.1" y1="516.3" x2="399.1" y2="522.3" stroke="#0000ff" stroke-width="1"/>
<line x1="415.4" y1="516.3" x2="415.4" y2="522.3" stroke="#0000ff" stroke-width="1"/>
<line x1="407" y1="495.3" x2="407" y2="543.5" stroke="#0000ff" stroke-width="1.3"/>
<line x1="404" y1="495.3" x2="410" y2="495.3" stroke="#0000ff" stroke-width="1"/>
<line x1="404" y1="543.5" x2="410" y2="543.5" stroke="#0000ff" stroke-width="1"/>
<circle cx="407" cy="519.3" r="3.3" fill="#0000ff"/>
<line x1="459.1" y1="580.8" x2="484.7" y2="580.8" stroke="#0000ff" stroke-width="1.3"/>
<line x1="459.1" y1="577.8" x2="459.1" y2="583.8" stroke="#0000ff" stroke-width="1"/>
<line x1="484.7" y1="577.8" x2="484.7" y2="583.8" stroke="#0000ff" stroke-width="1"/>
<line x1="471.7" y1="551.2" x2="471.7" y2="610.2" stroke="#0000ff" stroke-width="1.3"/>
<line x1="468.7" y1="551.2" x2="474.7" y2="551.2" stroke="#0000ff" stroke-width="1"/>
<line x1="468.7" y1="610.2" x2="474.7" y2="610.2" stroke="#0000ff" stroke-width="1"/>
<circle cx="471.7" cy="580.8" r="3.3" fill="#0000ff"/>
</g>
<line x1="119.5" y1="16.4" x2="119.5" y2="217.45" stroke="#000" stroke-width="1.3" stroke-opacity="0.5" stroke-dasharray="1.5 2.5"/>
<line x1="200.56" y1="16.4" x2="200.56" y2="217.45" stroke="#000" stroke-width="1.3" stroke-opacity="0.5" stroke-dasharray="1.5 2.5"/>
<line x1="281.62" y1="16.4" x2="281.62" y2="217.45" stroke="#000" stroke-width="1.3" stroke-opacity="0.5" stroke-dasharray="1.5 2.5"/>
<line x1="362.68" y1="16.4" x2="362.68" y2="217.45" stroke="#000" stroke-width="1.3" stroke-opacity="0.5" stroke-dasharray="1.5 2.5"/>
<line x1="443.74" y1="16.4" x2="443.74" y2="217.45" stroke="#000" stroke-width="1.3" stroke-opacity="0.5" stroke-dasharray="1.5 2.5"/>
<line x1="524.8" y1="16.4" x2="524.8" y2="217.45" stroke="#000" stroke-width="1.3" stroke-opacity="0.5" stroke-dasharray="1.5 2.5"/>
<line x1="605.86" y1="16.4" x2="605.86" y2="217.45" stroke="#000" stroke-width="1.3" stroke-opacity="0.5" stroke-dasharray="1.5 2.5"/>
<line x1="119.5" y1="217.45" x2="119.5" y2="418.65" stroke="#000" stroke-width="1.3" stroke-opacity="0.5" stroke-dasharray="1.5 2.5"/>
<line x1="200.56" y1="217.45" x2="200.56" y2="418.65" stroke="#000" stroke-width="1.3" stroke-opacity="0.5" stroke-dasharray="1.5 2.5"/>
<line x1="281.62" y1="217.45" x2="281.62" y2="418.65" stroke="#000" stroke-width="1.3" stroke-opacity="0.5" stroke-dasharray="1.5 2.5"/>
<line x1="362.68" y1="217.45" x2="362.68" y2="418.65" stroke="#000" stroke-width="1.3" stroke-opacity="0.5" stroke-dasharray="1.5 2.5"/>
<line x1="443.74" y1="217.45" x2="443.74" y2="418.65" stroke="#000" stroke-width="1.3" stroke-opacity="0.5" stroke-dasharray="1.5 2.5"/>
<line x1="524.8" y1="217.45" x2="524.8" y2="418.65" stroke="#000" stroke-width="1.3" stroke-opacity="0.5" stroke-dasharray="1.5 2.5"/>
<line x1="605.86" y1="217.45" x2="605.86" y2="418.65" stroke="#000" stroke-width="1.3" stroke-opacity="0.5" stroke-dasharray="1.5 2.5"/>
<line x1="119.5" y1="418.65" x2="119.5" y2="619.7" stroke="#000" stroke-width="1.3" stroke-opacity="0.5" stroke-dasharray="1.5 2.5"/>
<line x1="200.56" y1="418.65" x2="200.56" y2="619.7" stroke="#000" stroke-width="1.3" stroke-opacity="0.5" stroke-dasharray="1.5 2.5"/>
<line x1="281.62" y1="418.65" x2="281.62" y2="619.7" stroke="#000" stroke-width="1.3" stroke-opacity="0.5" stroke-dasharray="1.5 2.5"/>
<line x1="362.68" y1="418.65" x2="362.68" y2="619.7" stroke="#000" stroke-width="1.3" stroke-opacity="0.5" stroke-dasharray="1.5 2.5"/>
<line x1="443.74" y1="418.65" x2="443.74" y2="619.7" stroke="#000" stroke-width="1.3" stroke-opacity="0.5" stroke-dasharray="1.5 2.5"/>
<line x1="524.8" y1="418.65" x2="524.8" y2="619.7" stroke="#000" stroke-width="1.3" stroke-opacity="0.5" stroke-dasharray="1.5 2.5"/>
<line x1="605.86" y1="418.65" x2="605.86" y2="619.7" stroke="#000" stroke-width="1.3" stroke-opacity="0.5" stroke-dasharray="1.5 2.5"/>
<line x1="58.5" y1="27.3" x2="614.5" y2="27.3" stroke="#000" stroke-width="1.3" stroke-opacity="0.58" stroke-dasharray="1.5 2.485"/>
<line x1="58.5" y1="65" x2="614.5" y2="65" stroke="#000" stroke-width="1.3" stroke-opacity="0.58" stroke-dasharray="1.5 2.485"/>
<line x1="58.5" y1="102.7" x2="614.5" y2="102.7" stroke="#000" stroke-width="1.3" stroke-opacity="0.58" stroke-dasharray="1.5 2.485"/>
<line x1="58.5" y1="140.4" x2="614.5" y2="140.4" stroke="#000" stroke-width="1.3" stroke-opacity="0.58" stroke-dasharray="1.5 2.485"/>
<line x1="58.5" y1="178.1" x2="614.5" y2="178.1" stroke="#000" stroke-width="1.3" stroke-opacity="0.58" stroke-dasharray="1.5 2.485"/>
<line x1="58.5" y1="215.8" x2="614.5" y2="215.8" stroke="#000" stroke-width="1.3" stroke-opacity="0.58" stroke-dasharray="1.5 2.485"/>
<line x1="58.5" y1="252.4" x2="614.5" y2="252.4" stroke="#000" stroke-width="1.3" stroke-opacity="0.58" stroke-dasharray="1.5 2.485"/>
<line x1="58.5" y1="293.9" x2="614.5" y2="293.9" stroke="#000" stroke-width="1.3" stroke-opacity="0.58" stroke-dasharray="1.5 2.485"/>
<line x1="58.5" y1="335.4" x2="614.5" y2="335.4" stroke="#000" stroke-width="1.3" stroke-opacity="0.58" stroke-dasharray="1.5 2.485"/>
<line x1="58.5" y1="376.9" x2="614.5" y2="376.9" stroke="#000" stroke-width="1.3" stroke-opacity="0.58" stroke-dasharray="1.5 2.485"/>
<line x1="58.5" y1="418.4" x2="614.5" y2="418.4" stroke="#000" stroke-width="1.3" stroke-opacity="0.58" stroke-dasharray="1.5 2.485"/>
<line x1="58.5" y1="440.9" x2="614.5" y2="440.9" stroke="#000" stroke-width="1.3" stroke-opacity="0.58" stroke-dasharray="1.5 2.485"/>
<line x1="58.5" y1="468.86" x2="614.5" y2="468.86" stroke="#000" stroke-width="1.3" stroke-opacity="0.58" stroke-dasharray="1.5 2.485"/>
<line x1="58.5" y1="496.83" x2="614.5" y2="496.83" stroke="#000" stroke-width="1.3" stroke-opacity="0.58" stroke-dasharray="1.5 2.485"/>
<line x1="58.5" y1="524.79" x2="614.5" y2="524.79" stroke="#000" stroke-width="1.3" stroke-opacity="0.58" stroke-dasharray="1.5 2.485"/>
<line x1="58.5" y1="552.76" x2="614.5" y2="552.76" stroke="#000" stroke-width="1.3" stroke-opacity="0.58" stroke-dasharray="1.5 2.485"/>
<line x1="58.5" y1="580.72" x2="614.5" y2="580.72" stroke="#000" stroke-width="1.3" stroke-opacity="0.58" stroke-dasharray="1.5 2.485"/>
<line x1="58.5" y1="608.69" x2="614.5" y2="608.69" stroke="#000" stroke-width="1.3" stroke-opacity="0.58" stroke-dasharray="1.5 2.485"/>
<line x1="119.5" y1="16.4" x2="119.5" y2="20.7" stroke="#000" stroke-width="1"/>
<line x1="119.5" y1="217.45" x2="119.5" y2="213.15" stroke="#000" stroke-width="1"/>
<line x1="200.56" y1="16.4" x2="200.56" y2="20.7" stroke="#000" stroke-width="1"/>
<line x1="200.56" y1="217.45" x2="200.56" y2="213.15" stroke="#000" stroke-width="1"/>
<line x1="281.62" y1="16.4" x2="281.62" y2="20.7" stroke="#000" stroke-width="1"/>
<line x1="281.62" y1="217.45" x2="281.62" y2="213.15" stroke="#000" stroke-width="1"/>
<line x1="362.68" y1="16.4" x2="362.68" y2="20.7" stroke="#000" stroke-width="1"/>
<line x1="362.68" y1="217.45" x2="362.68" y2="213.15" stroke="#000" stroke-width="1"/>
<line x1="443.74" y1="16.4" x2="443.74" y2="20.7" stroke="#000" stroke-width="1"/>
<line x1="443.74" y1="217.45" x2="443.74" y2="213.15" stroke="#000" stroke-width="1"/>
<line x1="524.8" y1="16.4" x2="524.8" y2="20.7" stroke="#000" stroke-width="1"/>
<line x1="524.8" y1="217.45" x2="524.8" y2="213.15" stroke="#000" stroke-width="1"/>
<line x1="605.86" y1="16.4" x2="605.86" y2="20.7" stroke="#000" stroke-width="1"/>
<line x1="605.86" y1="217.45" x2="605.86" y2="213.15" stroke="#000" stroke-width="1"/>
<line x1="119.5" y1="217.45" x2="119.5" y2="221.75" stroke="#000" stroke-width="1"/>
<line x1="119.5" y1="418.65" x2="119.5" y2="414.35" stroke="#000" stroke-width="1"/>
<line x1="200.56" y1="217.45" x2="200.56" y2="221.75" stroke="#000" stroke-width="1"/>
<line x1="200.56" y1="418.65" x2="200.56" y2="414.35" stroke="#000" stroke-width="1"/>
<line x1="281.62" y1="217.45" x2="281.62" y2="221.75" stroke="#000" stroke-width="1"/>
<line x1="281.62" y1="418.65" x2="281.62" y2="414.35" stroke="#000" stroke-width="1"/>
<line x1="362.68" y1="217.45" x2="362.68" y2="221.75" stroke="#000" stroke-width="1"/>
<line x1="362.68" y1="418.65" x2="362.68" y2="414.35" stroke="#000" stroke-width="1"/>
<line x1="443.74" y1="217.45" x2="443.74" y2="221.75" stroke="#000" stroke-width="1"/>
<line x1="443.74" y1="418.65" x2="443.74" y2="414.35" stroke="#000" stroke-width="1"/>
<line x1="524.8" y1="217.45" x2="524.8" y2="221.75" stroke="#000" stroke-width="1"/>
<line x1="524.8" y1="418.65" x2="524.8" y2="414.35" stroke="#000" stroke-width="1"/>
<line x1="605.86" y1="217.45" x2="605.86" y2="221.75" stroke="#000" stroke-width="1"/>
<line x1="605.86" y1="418.65" x2="605.86" y2="414.35" stroke="#000" stroke-width="1"/>
<line x1="119.5" y1="418.65" x2="119.5" y2="422.95" stroke="#000" stroke-width="1"/>
<line x1="119.5" y1="619.7" x2="119.5" y2="615.4" stroke="#000" stroke-width="1"/>
<line x1="200.56" y1="418.65" x2="200.56" y2="422.95" stroke="#000" stroke-width="1"/>
<line x1="200.56" y1="619.7" x2="200.56" y2="615.4" stroke="#000" stroke-width="1"/>
<line x1="281.62" y1="418.65" x2="281.62" y2="422.95" stroke="#000" stroke-width="1"/>
<line x1="281.62" y1="619.7" x2="281.62" y2="615.4" stroke="#000" stroke-width="1"/>
<line x1="362.68" y1="418.65" x2="362.68" y2="422.95" stroke="#000" stroke-width="1"/>
<line x1="362.68" y1="619.7" x2="362.68" y2="615.4" stroke="#000" stroke-width="1"/>
<line x1="443.74" y1="418.65" x2="443.74" y2="422.95" stroke="#000" stroke-width="1"/>
<line x1="443.74" y1="619.7" x2="443.74" y2="615.4" stroke="#000" stroke-width="1"/>
<line x1="524.8" y1="418.65" x2="524.8" y2="422.95" stroke="#000" stroke-width="1"/>
<line x1="524.8" y1="619.7" x2="524.8" y2="615.4" stroke="#000" stroke-width="1"/>
<line x1="605.86" y1="418.65" x2="605.86" y2="422.95" stroke="#000" stroke-width="1"/>
<line x1="605.86" y1="619.7" x2="605.86" y2="615.4" stroke="#000" stroke-width="1"/>
<line x1="58.5" y1="215.8" x2="62.8" y2="215.8" stroke="#000" stroke-width="1"/>
<line x1="614.5" y1="215.8" x2="607.1" y2="215.8" stroke="#000" stroke-width="1"/>
<line x1="58.5" y1="204.45" x2="60.6" y2="204.45" stroke="#000" stroke-width="1"/>
<line x1="614.5" y1="204.45" x2="610.1" y2="204.45" stroke="#000" stroke-width="1"/>
<line x1="58.5" y1="197.81" x2="60.6" y2="197.81" stroke="#000" stroke-width="1"/>
<line x1="614.5" y1="197.81" x2="610.1" y2="197.81" stroke="#000" stroke-width="1"/>
<line x1="58.5" y1="193.1" x2="60.6" y2="193.1" stroke="#000" stroke-width="1"/>
<line x1="614.5" y1="193.1" x2="610.1" y2="193.1" stroke="#000" stroke-width="1"/>
<line x1="58.5" y1="189.45" x2="60.6" y2="189.45" stroke="#000" stroke-width="1"/>
<line x1="614.5" y1="189.45" x2="610.1" y2="189.45" stroke="#000" stroke-width="1"/>
<line x1="58.5" y1="186.46" x2="60.6" y2="186.46" stroke="#000" stroke-width="1"/>
<line x1="614.5" y1="186.46" x2="610.1" y2="186.46" stroke="#000" stroke-width="1"/>
<line x1="58.5" y1="183.94" x2="60.6" y2="183.94" stroke="#000" stroke-width="1"/>
<line x1="614.5" y1="183.94" x2="610.1" y2="183.94" stroke="#000" stroke-width="1"/>
<line x1="58.5" y1="181.75" x2="60.6" y2="181.75" stroke="#000" stroke-width="1"/>
<line x1="614.5" y1="181.75" x2="610.1" y2="181.75" stroke="#000" stroke-width="1"/>
<line x1="58.5" y1="179.83" x2="60.6" y2="179.83" stroke="#000" stroke-width="1"/>
<line x1="614.5" y1="179.83" x2="610.1" y2="179.83" stroke="#000" stroke-width="1"/>
<line x1="58.5" y1="178.1" x2="62.8" y2="178.1" stroke="#000" stroke-width="1"/>
<line x1="614.5" y1="178.1" x2="607.1" y2="178.1" stroke="#000" stroke-width="1"/>
<line x1="58.5" y1="166.75" x2="60.6" y2="166.75" stroke="#000" stroke-width="1"/>
<line x1="614.5" y1="166.75" x2="610.1" y2="166.75" stroke="#000" stroke-width="1"/>
<line x1="58.5" y1="160.11" x2="60.6" y2="160.11" stroke="#000" stroke-width="1"/>
<line x1="614.5" y1="160.11" x2="610.1" y2="160.11" stroke="#000" stroke-width="1"/>
<line x1="58.5" y1="155.4" x2="60.6" y2="155.4" stroke="#000" stroke-width="1"/>
<line x1="614.5" y1="155.4" x2="610.1" y2="155.4" stroke="#000" stroke-width="1"/>
<line x1="58.5" y1="151.75" x2="60.6" y2="151.75" stroke="#000" stroke-width="1"/>
<line x1="614.5" y1="151.75" x2="610.1" y2="151.75" stroke="#000" stroke-width="1"/>
<line x1="58.5" y1="148.76" x2="60.6" y2="148.76" stroke="#000" stroke-width="1"/>
<line x1="614.5" y1="148.76" x2="610.1" y2="148.76" stroke="#000" stroke-width="1"/>
<line x1="58.5" y1="146.24" x2="60.6" y2="146.24" stroke="#000" stroke-width="1"/>
<line x1="614.5" y1="146.24" x2="610.1" y2="146.24" stroke="#000" stroke-width="1"/>
<line x1="58.5" y1="144.05" x2="60.6" y2="144.05" stroke="#000" stroke-width="1"/>
<line x1="614.5" y1="144.05" x2="610.1" y2="144.05" stroke="#000" stroke-width="1"/>
<line x1="58.5" y1="142.13" x2="60.6" y2="142.13" stroke="#000" stroke-width="1"/>
<line x1="614.5" y1="142.13" x2="610.1" y2="142.13" stroke="#000" stroke-width="1"/>
<line x1="58.5" y1="140.4" x2="62.8" y2="140.4" stroke="#000" stroke-width="1"/>
<line x1="614.5" y1="140.4" x2="607.1" y2="140.4" stroke="#000" stroke-width="1"/>
<line x1="58.5" y1="129.05" x2="60.6" y2="129.05" stroke="#000" stroke-width="1"/>
<line x1="614.5" y1="129.05" x2="610.1" y2="129.05" stroke="#000" stroke-width="1"/>
<line x1="58.5" y1="122.41" x2="60.6" y2="122.41" stroke="#000" stroke-width="1"/>
<line x1="614.5" y1="122.41" x2="610.1" y2="122.41" stroke="#000" stroke-width="1"/>
<line x1="58.5" y1="117.7" x2="60.6" y2="117.7" stroke="#000" stroke-width="1"/>
<line x1="614.5" y1="117.7" x2="610.1" y2="117.7" stroke="#000" stroke-width="1"/>
<line x1="58.5" y1="114.05" x2="60.6" y2="114.05" stroke="#000" stroke-width="1"/>
<line x1="614.5" y1="114.05" x2="610.1" y2="114.05" stroke="#000" stroke-width="1"/>
<line x1="58.5" y1="111.06" x2="60.6" y2="111.06" stroke="#000" stroke-width="1"/>
<line x1="614.5" y1="111.06" x2="610.1" y2="111.06" stroke="#000" stroke-width="1"/>
<line x1="58.5" y1="108.54" x2="60.6" y2="108.54" stroke="#000" stroke-width="1"/>
<line x1="614.5" y1="108.54" x2="610.1" y2="108.54" stroke="#000" stroke-width="1"/>
<line x1="58.5" y1="106.35" x2="60.6" y2="106.35" stroke="#000" stroke-width="1"/>
<line x1="614.5" y1="106.35" x2="610.1" y2="106.35" stroke="#000" stroke-width="1"/>
<line x1="58.5" y1="104.43" x2="60.6" y2="104.43" stroke="#000" stroke-width="1"/>
<line x1="614.5" y1="104.43" x2="610.1" y2="104.43" stroke="#000" stroke-width="1"/>
<line x1="58.5" y1="102.7" x2="62.8" y2="102.7" stroke="#000" stroke-width="1"/>
<line x1="614.5" y1="102.7" x2="607.1" y2="102.7" stroke="#000" stroke-width="1"/>
<line x1="58.5" y1="91.35" x2="60.6" y2="91.35" stroke="#000" stroke-width="1"/>
<line x1="614.5" y1="91.35" x2="610.1" y2="91.35" stroke="#000" stroke-width="1"/>
<line x1="58.5" y1="84.71" x2="60.6" y2="84.71" stroke="#000" stroke-width="1"/>
<line x1="614.5" y1="84.71" x2="610.1" y2="84.71" stroke="#000" stroke-width="1"/>
<line x1="58.5" y1="80" x2="60.6" y2="80" stroke="#000" stroke-width="1"/>
<line x1="614.5" y1="80" x2="610.1" y2="80" stroke="#000" stroke-width="1"/>
<line x1="58.5" y1="76.35" x2="60.6" y2="76.35" stroke="#000" stroke-width="1"/>
<line x1="614.5" y1="76.35" x2="610.1" y2="76.35" stroke="#000" stroke-width="1"/>
<line x1="58.5" y1="73.36" x2="60.6" y2="73.36" stroke="#000" stroke-width="1"/>
<line x1="614.5" y1="73.36" x2="610.1" y2="73.36" stroke="#000" stroke-width="1"/>
<line x1="58.5" y1="70.84" x2="60.6" y2="70.84" stroke="#000" stroke-width="1"/>
<line x1="614.5" y1="70.84" x2="610.1" y2="70.84" stroke="#000" stroke-width="1"/>
<line x1="58.5" y1="68.65" x2="60.6" y2="68.65" stroke="#000" stroke-width="1"/>
<line x1="614.5" y1="68.65" x2="610.1" y2="68.65" stroke="#000" stroke-width="1"/>
<line x1="58.5" y1="66.73" x2="60.6" y2="66.73" stroke="#000" stroke-width="1"/>
<line x1="614.5" y1="66.73" x2="610.1" y2="66.73" stroke="#000" stroke-width="1"/>
<line x1="58.5" y1="65" x2="62.8" y2="65" stroke="#000" stroke-width="1"/>
<line x1="614.5" y1="65" x2="607.1" y2="65" stroke="#000" stroke-width="1"/>
<line x1="58.5" y1="53.65" x2="60.6" y2="53.65" stroke="#000" stroke-width="1"/>
<line x1="614.5" y1="53.65" x2="610.1" y2="53.65" stroke="#000" stroke-width="1"/>
<line x1="58.5" y1="47.01" x2="60.6" y2="47.01" stroke="#000" stroke-width="1"/>
<line x1="614.5" y1="47.01" x2="610.1" y2="47.01" stroke="#000" stroke-width="1"/>
<line x1="58.5" y1="42.3" x2="60.6" y2="42.3" stroke="#000" stroke-width="1"/>
<line x1="614.5" y1="42.3" x2="610.1" y2="42.3" stroke="#000" stroke-width="1"/>
<line x1="58.5" y1="38.65" x2="60.6" y2="38.65" stroke="#000" stroke-width="1"/>
<line x1="614.5" y1="38.65" x2="610.1" y2="38.65" stroke="#000" stroke-width="1"/>
<line x1="58.5" y1="35.66" x2="60.6" y2="35.66" stroke="#000" stroke-width="1"/>
<line x1="614.5" y1="35.66" x2="610.1" y2="35.66" stroke="#000" stroke-width="1"/>
<line x1="58.5" y1="33.14" x2="60.6" y2="33.14" stroke="#000" stroke-width="1"/>
<line x1="614.5" y1="33.14" x2="610.1" y2="33.14" stroke="#000" stroke-width="1"/>
<line x1="58.5" y1="30.95" x2="60.6" y2="30.95" stroke="#000" stroke-width="1"/>
<line x1="614.5" y1="30.95" x2="610.1" y2="30.95" stroke="#000" stroke-width="1"/>
<line x1="58.5" y1="29.03" x2="60.6" y2="29.03" stroke="#000" stroke-width="1"/>
<line x1="614.5" y1="29.03" x2="610.1" y2="29.03" stroke="#000" stroke-width="1"/>
<line x1="58.5" y1="27.3" x2="62.8" y2="27.3" stroke="#000" stroke-width="1"/>
<line x1="614.5" y1="27.3" x2="607.1" y2="27.3" stroke="#000" stroke-width="1"/>
<line x1="58.5" y1="418.4" x2="62.8" y2="418.4" stroke="#000" stroke-width="1"/>
<line x1="614.5" y1="418.4" x2="610.2" y2="418.4" stroke="#000" stroke-width="1"/>
<line x1="58.5" y1="405.91" x2="60.6" y2="405.91" stroke="#000" stroke-width="1"/>
<line x1="614.5" y1="405.91" x2="612.4" y2="405.91" stroke="#000" stroke-width="1"/>
<line x1="58.5" y1="398.6" x2="60.6" y2="398.6" stroke="#000" stroke-width="1"/>
<line x1="614.5" y1="398.6" x2="612.4" y2="398.6" stroke="#000" stroke-width="1"/>
<line x1="58.5" y1="393.41" x2="60.6" y2="393.41" stroke="#000" stroke-width="1"/>
<line x1="614.5" y1="393.41" x2="612.4" y2="393.41" stroke="#000" stroke-width="1"/>
<line x1="58.5" y1="389.39" x2="60.6" y2="389.39" stroke="#000" stroke-width="1"/>
<line x1="614.5" y1="389.39" x2="612.4" y2="389.39" stroke="#000" stroke-width="1"/>
<line x1="58.5" y1="386.11" x2="60.6" y2="386.11" stroke="#000" stroke-width="1"/>
<line x1="614.5" y1="386.11" x2="612.4" y2="386.11" stroke="#000" stroke-width="1"/>
<line x1="58.5" y1="383.33" x2="60.6" y2="383.33" stroke="#000" stroke-width="1"/>
<line x1="614.5" y1="383.33" x2="612.4" y2="383.33" stroke="#000" stroke-width="1"/>
<line x1="58.5" y1="380.92" x2="60.6" y2="380.92" stroke="#000" stroke-width="1"/>
<line x1="614.5" y1="380.92" x2="612.4" y2="380.92" stroke="#000" stroke-width="1"/>
<line x1="58.5" y1="378.8" x2="60.6" y2="378.8" stroke="#000" stroke-width="1"/>
<line x1="614.5" y1="378.8" x2="612.4" y2="378.8" stroke="#000" stroke-width="1"/>
<line x1="58.5" y1="376.9" x2="62.8" y2="376.9" stroke="#000" stroke-width="1"/>
<line x1="614.5" y1="376.9" x2="610.2" y2="376.9" stroke="#000" stroke-width="1"/>
<line x1="58.5" y1="364.41" x2="60.6" y2="364.41" stroke="#000" stroke-width="1"/>
<line x1="614.5" y1="364.41" x2="612.4" y2="364.41" stroke="#000" stroke-width="1"/>
<line x1="58.5" y1="357.1" x2="60.6" y2="357.1" stroke="#000" stroke-width="1"/>
<line x1="614.5" y1="357.1" x2="612.4" y2="357.1" stroke="#000" stroke-width="1"/>
<line x1="58.5" y1="351.91" x2="60.6" y2="351.91" stroke="#000" stroke-width="1"/>
<line x1="614.5" y1="351.91" x2="612.4" y2="351.91" stroke="#000" stroke-width="1"/>
<line x1="58.5" y1="347.89" x2="60.6" y2="347.89" stroke="#000" stroke-width="1"/>
<line x1="614.5" y1="347.89" x2="612.4" y2="347.89" stroke="#000" stroke-width="1"/>
<line x1="58.5" y1="344.61" x2="60.6" y2="344.61" stroke="#000" stroke-width="1"/>
<line x1="614.5" y1="344.61" x2="612.4" y2="344.61" stroke="#000" stroke-width="1"/>
<line x1="58.5" y1="341.83" x2="60.6" y2="341.83" stroke="#000" stroke-width="1"/>
<line x1="614.5" y1="341.83" x2="612.4" y2="341.83" stroke="#000" stroke-width="1"/>
<line x1="58.5" y1="339.42" x2="60.6" y2="339.42" stroke="#000" stroke-width="1"/>
<line x1="614.5" y1="339.42" x2="612.4" y2="339.42" stroke="#000" stroke-width="1"/>
<line x1="58.5" y1="337.3" x2="60.6" y2="337.3" stroke="#000" stroke-width="1"/>
<line x1="614.5" y1="337.3" x2="612.4" y2="337.3" stroke="#000" stroke-width="1"/>
<line x1="58.5" y1="335.4" x2="62.8" y2="335.4" stroke="#000" stroke-width="1"/>
<line x1="614.5" y1="335.4" x2="610.2" y2="335.4" stroke="#000" stroke-width="1"/>
<line x1="58.5" y1="322.91" x2="60.6" y2="322.91" stroke="#000" stroke-width="1"/>
<line x1="614.5" y1="322.91" x2="612.4" y2="322.91" stroke="#000" stroke-width="1"/>
<line x1="58.5" y1="315.6" x2="60.6" y2="315.6" stroke="#000" stroke-width="1"/>
<line x1="614.5" y1="315.6" x2="612.4" y2="315.6" stroke="#000" stroke-width="1"/>
<line x1="58.5" y1="310.41" x2="60.6" y2="310.41" stroke="#000" stroke-width="1"/>
<line x1="614.5" y1="310.41" x2="612.4" y2="310.41" stroke="#000" stroke-width="1"/>
<line x1="58.5" y1="306.39" x2="60.6" y2="306.39" stroke="#000" stroke-width="1"/>
<line x1="614.5" y1="306.39" x2="612.4" y2="306.39" stroke="#000" stroke-width="1"/>
<line x1="58.5" y1="303.11" x2="60.6" y2="303.11" stroke="#000" stroke-width="1"/>
<line x1="614.5" y1="303.11" x2="612.4" y2="303.11" stroke="#000" stroke-width="1"/>
<line x1="58.5" y1="300.33" x2="60.6" y2="300.33" stroke="#000" stroke-width="1"/>
<line x1="614.5" y1="300.33" x2="612.4" y2="300.33" stroke="#000" stroke-width="1"/>
<line x1="58.5" y1="297.92" x2="60.6" y2="297.92" stroke="#000" stroke-width="1"/>
<line x1="614.5" y1="297.92" x2="612.4" y2="297.92" stroke="#000" stroke-width="1"/>
<line x1="58.5" y1="295.8" x2="60.6" y2="295.8" stroke="#000" stroke-width="1"/>
<line x1="614.5" y1="295.8" x2="612.4" y2="295.8" stroke="#000" stroke-width="1"/>
<line x1="58.5" y1="293.9" x2="62.8" y2="293.9" stroke="#000" stroke-width="1"/>
<line x1="614.5" y1="293.9" x2="610.2" y2="293.9" stroke="#000" stroke-width="1"/>
<line x1="58.5" y1="281.41" x2="60.6" y2="281.41" stroke="#000" stroke-width="1"/>
<line x1="614.5" y1="281.41" x2="612.4" y2="281.41" stroke="#000" stroke-width="1"/>
<line x1="58.5" y1="274.1" x2="60.6" y2="274.1" stroke="#000" stroke-width="1"/>
<line x1="614.5" y1="274.1" x2="612.4" y2="274.1" stroke="#000" stroke-width="1"/>
<line x1="58.5" y1="268.91" x2="60.6" y2="268.91" stroke="#000" stroke-width="1"/>
<line x1="614.5" y1="268.91" x2="612.4" y2="268.91" stroke="#000" stroke-width="1"/>
<line x1="58.5" y1="264.89" x2="60.6" y2="264.89" stroke="#000" stroke-width="1"/>
<line x1="614.5" y1="264.89" x2="612.4" y2="264.89" stroke="#000" stroke-width="1"/>
<line x1="58.5" y1="261.61" x2="60.6" y2="261.61" stroke="#000" stroke-width="1"/>
<line x1="614.5" y1="261.61" x2="612.4" y2="261.61" stroke="#000" stroke-width="1"/>
<line x1="58.5" y1="258.83" x2="60.6" y2="258.83" stroke="#000" stroke-width="1"/>
<line x1="614.5" y1="258.83" x2="612.4" y2="258.83" stroke="#000" stroke-width="1"/>
<line x1="58.5" y1="256.42" x2="60.6" y2="256.42" stroke="#000" stroke-width="1"/>
<line x1="614.5" y1="256.42" x2="612.4" y2="256.42" stroke="#000" stroke-width="1"/>
<line x1="58.5" y1="254.3" x2="60.6" y2="254.3" stroke="#000" stroke-width="1"/>
<line x1="614.5" y1="254.3" x2="612.4" y2="254.3" stroke="#000" stroke-width="1"/>
<line x1="58.5" y1="252.4" x2="62.8" y2="252.4" stroke="#000" stroke-width="1"/>
<line x1="614.5" y1="252.4" x2="610.2" y2="252.4" stroke="#000" stroke-width="1"/>
<line x1="58.5" y1="239.91" x2="60.6" y2="239.91" stroke="#000" stroke-width="1"/>
<line x1="614.5" y1="239.91" x2="612.4" y2="239.91" stroke="#000" stroke-width="1"/>
<line x1="58.5" y1="232.6" x2="60.6" y2="232.6" stroke="#000" stroke-width="1"/>
<line x1="614.5" y1="232.6" x2="612.4" y2="232.6" stroke="#000" stroke-width="1"/>
<line x1="58.5" y1="227.41" x2="60.6" y2="227.41" stroke="#000" stroke-width="1"/>
<line x1="614.5" y1="227.41" x2="612.4" y2="227.41" stroke="#000" stroke-width="1"/>
<line x1="58.5" y1="223.39" x2="60.6" y2="223.39" stroke="#000" stroke-width="1"/>
<line x1="614.5" y1="223.39" x2="612.4" y2="223.39" stroke="#000" stroke-width="1"/>
<line x1="58.5" y1="220.11" x2="60.6" y2="220.11" stroke="#000" stroke-width="1"/>
<line x1="614.5" y1="220.11" x2="612.4" y2="220.11" stroke="#000" stroke-width="1"/>
<line x1="58.5" y1="440.9" x2="62.8" y2="440.9" stroke="#000" stroke-width="1"/>
<line x1="614.5" y1="440.9" x2="610.2" y2="440.9" stroke="#000" stroke-width="1"/>
<line x1="58.5" y1="468.86" x2="62.8" y2="468.86" stroke="#000" stroke-width="1"/>
<line x1="614.5" y1="468.86" x2="610.2" y2="468.86" stroke="#000" stroke-width="1"/>
<line x1="58.5" y1="496.83" x2="62.8" y2="496.83" stroke="#000" stroke-width="1"/>
<line x1="614.5" y1="496.83" x2="610.2" y2="496.83" stroke="#000" stroke-width="1"/>
<line x1="58.5" y1="524.79" x2="62.8" y2="524.79" stroke="#000" stroke-width="1"/>
<line x1="614.5" y1="524.79" x2="610.2" y2="524.79" stroke="#000" stroke-width="1"/>
<line x1="58.5" y1="552.76" x2="62.8" y2="552.76" stroke="#000" stroke-width="1"/>
<line x1="614.5" y1="552.76" x2="610.2" y2="552.76" stroke="#000" stroke-width="1"/>
<line x1="58.5" y1="580.72" x2="62.8" y2="580.72" stroke="#000" stroke-width="1"/>
<line x1="614.5" y1="580.72" x2="610.2" y2="580.72" stroke="#000" stroke-width="1"/>
<line x1="58.5" y1="608.69" x2="62.8" y2="608.69" stroke="#000" stroke-width="1"/>
<line x1="614.5" y1="608.69" x2="610.2" y2="608.69" stroke="#000" stroke-width="1"/>
<g fill="none" stroke="#000" stroke-width="1.2">
<rect x="58.5" y="16.4" width="556.0" height="201.05"/>
<rect x="58.5" y="217.45" width="556.0" height="201.2"/>
<rect x="58.5" y="418.65" width="556.0" height="201.05"/>
</g>
<g font-family="'DejaVu Sans', 'Liberation Sans', sans-serif" fill="#000" text-rendering="geometricPrecision">
<text transform="translate(53.2,31.4) scale(1,1.0)" text-anchor="end" font-size="15.2">10<tspan font-size="10.6" dy="-5.3">-3</tspan></text>
<text transform="translate(53.2,69.1) scale(1,1.0)" text-anchor="end" font-size="15.2">10<tspan font-size="10.6" dy="-5.3">-4</tspan></text>
<text transform="translate(53.2,106.8) scale(1,1.0)" text-anchor="end" font-size="15.2">10<tspan font-size="10.6" dy="-5.3">-5</tspan></text>
<text transform="translate(53.2,144.5) scale(1,1.0)" text-anchor="end" font-size="15.2">10<tspan font-size="10.6" dy="-5.3">-6</tspan></text>
<text transform="translate(53.2,182.2) scale(1,1.0)" text-anchor="end" font-size="15.2">10<tspan font-size="10.6" dy="-5.3">-7</tspan></text>
<text transform="translate(53.2,219.9) scale(1,1.0)" text-anchor="end" font-size="15.2">10<tspan font-size="10.6" dy="-5.3">-8</tspan></text>
<text transform="translate(53.2,256.5) scale(1,1.0)" text-anchor="end" font-size="15.2">10<tspan font-size="10.6" dy="-5.3">-2</tspan></text>
<text transform="translate(53.2,298) scale(1,1.0)" text-anchor="end" font-size="15.2">10<tspan font-size="10.6" dy="-5.3">-3</tspan></text>
<text transform="translate(53.2,339.5) scale(1,1.0)" text-anchor="end" font-size="15.2">10<tspan font-size="10.6" dy="-5.3">-4</tspan></text>
<text transform="translate(53.2,381) scale(1,1.0)" text-anchor="end" font-size="15.2">10<tspan font-size="10.6" dy="-5.3">-5</tspan></text>
<text transform="translate(53.2,422.5) scale(1,1.0)" text-anchor="end" font-size="15.2">10<tspan font-size="10.6" dy="-5.3">-6</tspan></text>
<text transform="translate(54.8,445.1)" text-anchor="end" font-size="15.2">3.5</text>
<text transform="translate(54.8,473.06)" text-anchor="end" font-size="15.2">4.0</text>
<text transform="translate(54.8,501.03)" text-anchor="end" font-size="15.2">4.5</text>
<text transform="translate(54.8,529)" text-anchor="end" font-size="15.2">5.0</text>
<text transform="translate(54.8,556.96)" text-anchor="end" font-size="15.2">5.5</text>
<text transform="translate(54.8,584.92)" text-anchor="end" font-size="15.2">6.0</text>
<text transform="translate(54.8,612.89)" text-anchor="end" font-size="15.2">6.5</text>
<text transform="translate(618.5,69.6)" font-size="15.2">X</text>
<text transform="translate(618.5,107.3)" font-size="15.2">M</text>
<text transform="translate(618.5,145)" font-size="15.2">C</text>
<text transform="translate(618.5,182.7)" font-size="15.2">B</text>
<text transform="translate(618.5,220.4)" font-size="15.2">A</text>
<text transform="translate(117.7,633.6) rotate(-30)" text-anchor="end" font-size="15.2">17:00</text>
<text transform="translate(198.76,633.6) rotate(-30)" text-anchor="end" font-size="15.2">19:00</text>
<text transform="translate(279.82,633.6) rotate(-30)" text-anchor="end" font-size="15.2">21:00</text>
<text transform="translate(360.88,633.6) rotate(-30)" text-anchor="end" font-size="15.2">23:00</text>
<text transform="translate(441.94,633.6) rotate(-30)" text-anchor="end" font-size="15.2">01:00</text>
<text transform="translate(523,633.6) rotate(-30)" text-anchor="end" font-size="15.2">03:00</text>
<text transform="translate(604.06,633.6) rotate(-30)" text-anchor="end" font-size="15.2">05:00</text>
<text transform="translate(336.7,10.7) scale(1,1.0)" text-anchor="middle" font-size="15.2">2017/09/10</text>
<text transform="translate(336.7,676.1) scale(1,1.0)" text-anchor="middle" font-size="17.0">Time [UT]</text>
<text transform="translate(14.7,188.3) rotate(-90)" font-size="17.0">Flux [Watts m<tspan font-size="11.5" dy="-7" font-weight="200">−</tspan><tspan font-size="11.5">2</tspan><tspan dy="7">]</tspan></text>
<text transform="translate(14.7,384.8) rotate(-90)" font-size="17.0">Flux [cm<tspan font-size="11.5" dy="-7" font-weight="200">−</tspan><tspan font-size="11.5">2</tspan><tspan dy="7"> s</tspan><tspan font-size="11.5" dy="-7" font-weight="200">−</tspan><tspan font-size="11.5">1</tspan><tspan dy="7" dx="-1"> ]</tspan></text>
<text transform="translate(22.1,573.2) rotate(-90)" font-size="17.0">Proton index</text>
<text transform="translate(448.2,55.2) scale(1,0.94)" font-size="14.9" fill="#ff0000">GOES 1.0-8.0</text>
<clipPath id="ca55"><rect x="545" y="45.35" width="25" height="14"/></clipPath>
<text x="552.5" y="55.4" font-size="14.4" font-family="'Liberation Serif', 'DejaVu Serif', serif" font-style="italic" fill="#ff0000" clip-path="url(#ca55)">Å</text>
<circle cx="558.8" cy="42.6" r="1.3" fill="none" stroke="#ff0000" stroke-width="1.05"/>
<text transform="translate(448.2,74.9) scale(1,0.94)" font-size="14.9" fill="#0000ff">GOES 0.5-4.0</text>
<clipPath id="ca74"><rect x="545" y="65.05" width="25" height="14"/></clipPath>
<text x="552.5" y="75.1" font-size="14.4" font-family="'Liberation Serif', 'DejaVu Serif', serif" font-style="italic" fill="#0000ff" clip-path="url(#ca74)">Å</text>
<circle cx="558.8" cy="62.3" r="1.3" fill="none" stroke="#0000ff" stroke-width="1.05"/>
<text transform="translate(448,257.3) scale(1,0.94)" font-size="15.2" fill="#ff0000">LAT &gt;100 MeV</text>
<text transform="translate(448,459) scale(1,0.94)" font-size="15.2" fill="#0000ff">LAT proton index</text>
</g>
</svg>
</body></html>
